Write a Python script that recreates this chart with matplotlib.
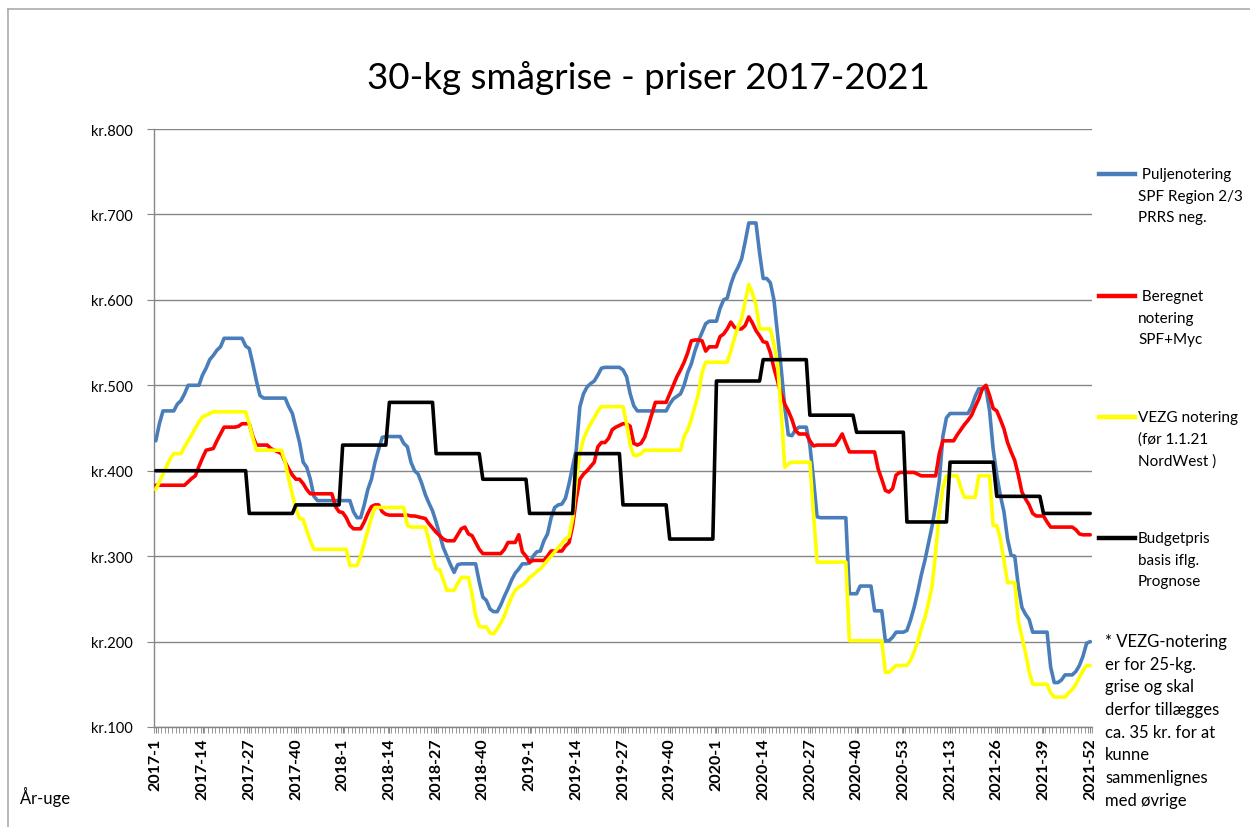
import matplotlib
matplotlib.use("Agg")
import matplotlib.pyplot as plt
from matplotlib.lines import Line2D

FONT = ["Lato", "DejaVu Sans"]
plt.rcParams["font.family"] = FONT

# ---------------- data ----------------
tick_labels = ["2017-1", "2017-14", "2017-27", "2017-40", "2018-1", "2018-14", "2018-27",
               "2018-40", "2019-1", "2019-14", "2019-27", "2019-40", "2020-1", "2020-14",
               "2020-27", "2020-40", "2020-53", "2021-13", "2021-26", "2021-39", "2021-52"]
y_ticks = [100, 200, 300, 400, 500, 600, 700, 800]
y_tick_labels = ["kr.100", "kr.200", "kr.300", "kr.400", "kr.500", "kr.600", "kr.700", "kr.800"]

# weekly prices, 2017-1 .. 2021-52 (261 weeks), 13 weeks per row
puljenotering = [
    435, 455, 470, 470, 470, 470, 478, 482, 490, 500, 500, 500, 500,
    512, 520, 530, 535, 541, 545, 555, 555, 555, 555, 555, 555, 546,
    543, 525, 505, 488, 485, 485, 485, 485, 485, 485, 485, 475, 467,
    450, 433, 410, 404, 390, 370, 365, 365, 365, 365, 365, 365, 365,
    365, 365, 365, 352, 345, 345, 360, 378, 390, 410, 425, 439, 440,
    440, 440, 440, 440, 432, 428, 410, 400, 396, 385, 372, 362, 353,
    340, 325, 310, 300, 290, 281, 290, 291, 291, 291, 291, 291, 270,
    252, 248, 238, 235, 235, 243, 253, 262, 272, 280, 285, 291, 291,
    292, 300, 305, 306, 318, 326, 345, 357, 360, 361, 368, 385, 405,
    425, 475, 490, 498, 502, 505, 512, 520, 521, 521, 521, 521, 521,
    518, 510, 490, 476, 470, 470, 470, 470, 470, 470, 470, 470, 470,
    478, 484, 487, 490, 500, 515, 525, 540, 552, 562, 572, 575, 575,
    575, 590, 600, 602, 618, 630, 638, 648, 668, 690, 690, 690, 655,
    625, 625, 620, 600, 560, 520, 475, 442, 441, 448, 451, 451, 451,
    430, 390, 346, 345, 345, 345, 345, 345, 345, 345, 345, 256, 256,
    256, 265, 265, 265, 265, 236, 236, 236, 201, 201, 205, 211, 211,
    211, 213, 225, 240, 258, 278, 295, 315, 335, 360, 388, 440, 462,
    467, 467, 467, 467, 467, 467, 475, 487, 496, 496, 496, 470, 425,
    395, 371, 352, 320, 301, 300, 265, 240, 232, 226, 211, 211, 211,
    211, 211, 170, 152, 152, 155, 161, 161, 161, 165, 172, 183, 198,
    200]

beregnet = [
    383, 383, 383, 383, 383, 383, 383, 383, 383, 387, 391, 394, 405,
    415, 424, 425, 426, 435, 443, 451, 451, 451, 451, 452, 455, 455,
    455, 440, 430, 430, 430, 430, 426, 424, 422, 420, 410, 402, 395,
    390, 390, 385, 378, 373, 373, 373, 373, 373, 373, 373, 358, 352,
    351, 345, 336, 332, 332, 332, 340, 350, 358, 360, 360, 352, 349,
    348, 348, 348, 348, 348, 348, 347, 347, 346, 345, 344, 338, 333,
    328, 324, 320, 318, 318, 318, 325, 332, 334, 326, 324, 316, 308,
    303, 303, 303, 303, 303, 303, 308, 316, 316, 316, 325, 305, 300,
    293, 295, 295, 295, 295, 300, 306, 306, 306, 306, 312, 316, 336,
    367, 390, 396, 400, 405, 410, 428, 433, 433, 438, 448, 451, 453,
    455, 455, 452, 432, 430, 432, 439, 452, 466, 480, 480, 480, 480,
    490, 500, 510, 518, 527, 538, 552, 553, 553, 552, 540, 545, 545,
    545, 557, 560, 566, 574, 568, 566, 566, 570, 580, 573, 564, 558,
    551, 550, 538, 520, 505, 490, 478, 470, 460, 447, 443, 443, 443,
    435, 429, 430, 430, 430, 430, 430, 430, 436, 443, 432, 422, 422,
    422, 422, 422, 422, 422, 422, 402, 390, 377, 375, 379, 395, 398,
    398, 398, 398, 398, 396, 394, 394, 394, 394, 394, 420, 435, 435,
    435, 435, 442, 448, 454, 459, 465, 475, 484, 496, 500, 488, 473,
    470, 460, 449, 433, 422, 412, 395, 375, 367, 360, 350, 347, 347,
    347, 340, 334, 334, 334, 334, 334, 334, 334, 331, 326, 325, 325,
    325]

vezg = [
    378, 387, 396, 405, 414, 420, 420, 420, 428, 435, 442, 450, 457,
    463, 465, 467, 469, 469, 469, 469, 469, 469, 469, 469, 469, 469,
    455, 438, 424, 424, 424, 424, 424, 424, 424, 424, 410, 390, 372,
    355, 344, 343, 330, 318, 308, 308, 308, 308, 308, 308, 308, 308,
    308, 308, 289, 289, 289, 300, 315, 330, 345, 357, 357, 357, 357,
    357, 357, 357, 357, 357, 336, 334, 334, 334, 334, 334, 318, 300,
    285, 284, 272, 260, 260, 260, 268, 275, 275, 275, 255, 230, 218,
    217, 217, 210, 209, 215, 222, 230, 242, 252, 260, 264, 266, 270,
    275, 278, 282, 285, 290, 295, 300, 305, 310, 315, 320, 323, 344,
    390, 420, 437, 447, 455, 462, 470, 475, 475, 475, 475, 475, 475,
    475, 455, 430, 418, 418, 420, 424, 424, 424, 424, 424, 424, 424,
    424, 424, 424, 424, 440, 448, 460, 475, 490, 515, 527, 527, 527,
    527, 527, 527, 527, 540, 555, 568, 578, 598, 618, 608, 594, 566,
    566, 566, 566, 548, 525, 470, 404, 408, 410, 410, 410, 410, 410,
    410, 350, 293, 293, 293, 293, 293, 293, 293, 293, 293, 201, 201,
    201, 201, 201, 201, 201, 201, 201, 201, 164, 164, 168, 172, 172,
    172, 172, 178, 188, 200, 215, 228, 245, 265, 305, 350, 380, 394,
    394, 394, 394, 380, 369, 369, 369, 369, 394, 394, 394, 394, 336,
    336, 320, 295, 269, 269, 269, 225, 205, 187, 165, 150, 150, 150,
    150, 150, 140, 135, 135, 135, 135, 140, 144, 150, 158, 166, 172,
    172]

budgetpris = [
    400, 400, 400, 400, 400, 400, 400, 400, 400, 400, 400, 400, 400,
    400, 400, 400, 400, 400, 400, 400, 400, 400, 400, 400, 400, 400,
    350, 350, 350, 350, 350, 350, 350, 350, 350, 350, 350, 350, 350,
    360, 360, 360, 360, 360, 360, 360, 360, 360, 360, 360, 360, 360,
    430, 430, 430, 430, 430, 430, 430, 430, 430, 430, 430, 430, 430,
    480, 480, 480, 480, 480, 480, 480, 480, 480, 480, 480, 480, 480,
    420, 420, 420, 420, 420, 420, 420, 420, 420, 420, 420, 420, 420,
    390, 390, 390, 390, 390, 390, 390, 390, 390, 390, 390, 390, 390,
    350, 350, 350, 350, 350, 350, 350, 350, 350, 350, 350, 350, 350,
    420, 420, 420, 420, 420, 420, 420, 420, 420, 420, 420, 420, 420,
    360, 360, 360, 360, 360, 360, 360, 360, 360, 360, 360, 360, 360,
    320, 320, 320, 320, 320, 320, 320, 320, 320, 320, 320, 320, 320,
    505, 505, 505, 505, 505, 505, 505, 505, 505, 505, 505, 505, 505,
    530, 530, 530, 530, 530, 530, 530, 530, 530, 530, 530, 530, 530,
    465, 465, 465, 465, 465, 465, 465, 465, 465, 465, 465, 465, 465,
    445, 445, 445, 445, 445, 445, 445, 445, 445, 445, 445, 445, 445,
    445, 340, 340, 340, 340, 340, 340, 340, 340, 340, 340, 340, 340,
    410, 410, 410, 410, 410, 410, 410, 410, 410, 410, 410, 410, 410,
    370, 370, 370, 370, 370, 370, 370, 370, 370, 370, 370, 370, 370,
    350, 350, 350, 350, 350, 350, 350, 350, 350, 350, 350, 350, 350,
    350]

series = [
    (puljenotering, "#4A7EBB", [" Puljenotering", "SPF Region 2/3", "PRRS neg."], 175),
    (beregnet, "#FF0000", [" Beregnet", "notering", "SPF+Myc"], 297),
    (vezg, "#FFFF00", ["VEZG notering", "(før 1.1.21", "NordWest )"], 418),
    (budgetpris, "#000000", ["Budgetpris", "basis iflg.", "Prognose"], 539),
]
footnote = ["* VEZG-notering", "er for 25-kg.", "grise og skal", "derfor tillægges",
            "ca. 35 kr. for at", "kunne", "sammenlignes", "med øvrige"]

# ---------------- figure ----------------
W, H = 1250, 828
fig = plt.figure(figsize=(W / 100, H / 100), dpi=100)
fig.patch.set_facecolor("white")


def fx(x):
    return x / W


def fy(y):
    return 1 - y / H


ax = fig.add_axes([fx(154), fy(728), (1092 - 154) / W, (728 - 130) / H])
grid_c = "#868686"

n = len(puljenotering)
xs = list(range(n))
for vals, col, _, _ in series:
    ax.plot(xs, vals, color=col, lw=2.6, solid_joinstyle="round", solid_capstyle="round", zorder=3)

ax.set_xlim(-0.5, n - 0.5)
ax.set_ylim(100, 800)
ax.set_yticks(y_ticks)
ax.set_yticklabels(y_tick_labels, fontsize=10.5, color="#000000")
ax.set_xticks(list(range(0, n, 13)))
ax.set_xticklabels(tick_labels, rotation=90, fontsize=11.5, fontweight="bold", color="#000000")
ax.set_xticks([i - 0.5 for i in range(n + 1)], minor=True)
ax.tick_params(axis="x", which="major", length=4.5, color=grid_c, width=0.8, pad=3)
ax.tick_params(axis="x", which="minor", length=4.5, color=grid_c, width=0.6)
ax.tick_params(axis="y", which="major", length=5, color=grid_c, width=0.8, pad=10)
ax.grid(axis="y", color=grid_c, lw=1.0, zorder=0)
ax.set_axisbelow(True)
for s in ["top", "right"]:
    ax.spines[s].set_visible(False)
for s in ["left", "bottom"]:
    ax.spines[s].set_color(grid_c)
    ax.spines[s].set_linewidth(1.0)

# title
fig.text(fx(648), fy(78), "30-kg smågrise - priser 2017-2021", ha="center", va="center",
         fontsize=26.5, color="#000000")

# legend (manual, to the right of the plot)
for vals, col, lines, ly in series:
    fig.add_artist(Line2D([fx(1099), fx(1135)], [fy(ly), fy(ly)], color=col, lw=3.2,
                          transform=fig.transFigure))
    for k, t in enumerate(lines):
        fig.text(fx(1138), fy(ly + k * 21.7), t, ha="left", va="center", fontsize=11,
                 color="#000000")

for k, t in enumerate(footnote):
    fig.text(fx(1105), fy(642 + k * 22.7), t, ha="left", va="center", fontsize=12,
             color="#000000")

fig.text(fx(20), fy(797), "År-uge", ha="left", va="center", fontsize=12, color="#000000")

# outer chart border (top and left edges visible)
border_c = "#ABABAB"
fig.add_artist(Line2D([fx(8), fx(8)], [fy(10), 0], color=border_c, lw=1.2,
                      transform=fig.transFigure))
fig.add_artist(Line2D([fx(8), 1], [fy(10), fy(10)], color=border_c, lw=1.2,
                      transform=fig.transFigure))

fig.savefig("out.png", dpi=100)
